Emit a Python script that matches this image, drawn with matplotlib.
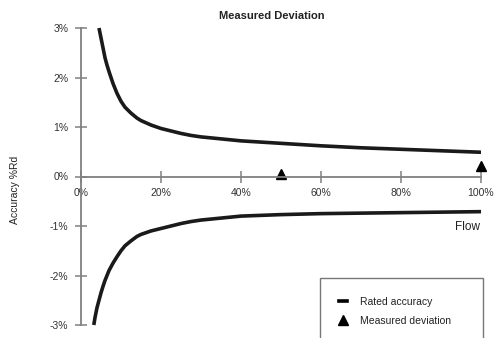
import matplotlib
matplotlib.use("Agg")
import matplotlib.pyplot as plt
from matplotlib.lines import Line2D

plt.rcParams['font.family'] = ['Liberation Sans', 'DejaVu Sans']

# Rated accuracy envelope (flow in % of full scale, accuracy in % of reading)
flow_upper = [4.5, 5, 5.5, 6, 6.5, 7, 7.5, 8, 9, 10, 11, 12.5, 14, 15, 17.5, 20,
              22.5, 25, 27.5, 30, 35, 40, 50, 60, 70, 80, 90, 100]
acc_upper = [3.0, 2.8, 2.6, 2.4, 2.25, 2.12, 2.0, 1.88, 1.68, 1.52, 1.4, 1.28,
             1.18, 1.13, 1.04, 0.97, 0.92, 0.87, 0.83, 0.80, 0.76, 0.72, 0.67,
             0.62, 0.58, 0.55, 0.52, 0.49]
flow_lower = [3.2, 3.5, 4, 4.5, 5, 5.5, 6, 7, 8, 9, 10, 11, 12.5, 14, 15, 17.5,
              20, 22.5, 25, 27.5, 30, 35, 40, 50, 60, 70, 80, 90, 100]
acc_lower = [-3.0, -2.85, -2.65, -2.5, -2.35, -2.22, -2.1, -1.9, -1.75, -1.62,
             -1.5, -1.4, -1.3, -1.21, -1.17, -1.1, -1.05, -1.0, -0.95, -0.91,
             -0.88, -0.84, -0.80, -0.77, -0.75, -0.74, -0.73, -0.72, -0.71]

# Measured deviation points
flow_meas = [50, 100]
dev_meas = [0.06, 0.22]

x_ticks = [0, 20, 40, 60, 80, 100]
x_tick_labels = ['0%', '20%', '40%', '60%', '80%', '100%']
y_ticks = [3, 2, 1, 0, -1, -2, -3]
y_tick_labels = ['3%', '2%', '1%', '0%', '-1%', '-2%', '-3%']

W, H = 494, 338
fig = plt.figure(figsize=(W / 100, H / 100), dpi=100)
ax = fig.add_axes([81 / W, 1 - 325 / H, 400 / W, (325 - 28) / H])
ax.set_xlim(0, 100)
ax.set_ylim(-3, 3)

curve_kw = dict(color='#1a1a1a', lw=2.6, solid_capstyle='butt',
                solid_joinstyle='round', clip_on=False)
ax.plot(flow_upper, acc_upper, **curve_kw)
ax.plot(flow_lower, acc_lower, **curve_kw)
ax.plot(flow_meas, dev_meas, linestyle='none', marker='^', markersize=7,
        color='black', clip_on=False)

for side in ('top', 'right'):
    ax.spines[side].set_visible(False)
ax.spines['left'].set_position(('data', 0))
ax.spines['bottom'].set_position(('data', 0))
for side in ('left', 'bottom'):
    ax.spines[side].set_color('#808080')
    ax.spines[side].set_linewidth(1.3)

ax.set_xticks(x_ticks)
ax.set_xticklabels(x_tick_labels)
ax.set_yticks(y_ticks)
ax.set_yticklabels(y_tick_labels)
ax.tick_params(axis='both', direction='inout', length=8, width=1.1,
               color='#808080', labelsize=7.5, labelcolor='#333333')
ax.tick_params(axis='x', pad=4)
ax.tick_params(axis='y', pad=5)

fig.text(272 / W, 1 - 16 / H, 'Measured Deviation', ha='center', va='center',
         fontsize=8, fontweight='bold', color='#222222')
fig.text(15 / W, 1 - 190 / H, 'Accuracy %Rd', ha='center', va='center',
         rotation=90, fontsize=7.5, color='#222222')
fig.text(480 / W, 1 - 227 / H, 'Flow', ha='right', va='center',
         fontsize=8.5, color='#222222')

handles = [Line2D([], [], color='black', lw=2.6),
           Line2D([], [], linestyle='none', marker='^', markersize=7, color='black')]
leg = fig.legend(handles, ['Rated accuracy', 'Measured deviation'],
                 loc='upper left', bbox_to_anchor=(320 / W, 1 - 278 / H, 163 / W, 0),
                 mode='expand', fontsize=7.5, handlelength=0.8, handletextpad=1.25,
                 borderpad=1.8, labelspacing=0.9, fancybox=False,
                 edgecolor='#555555', frameon=True, borderaxespad=0)
leg.get_frame().set_linewidth(1.0)
for t in leg.get_texts():
    t.set_color('#222222')

fig.savefig('out.png', dpi=100)
